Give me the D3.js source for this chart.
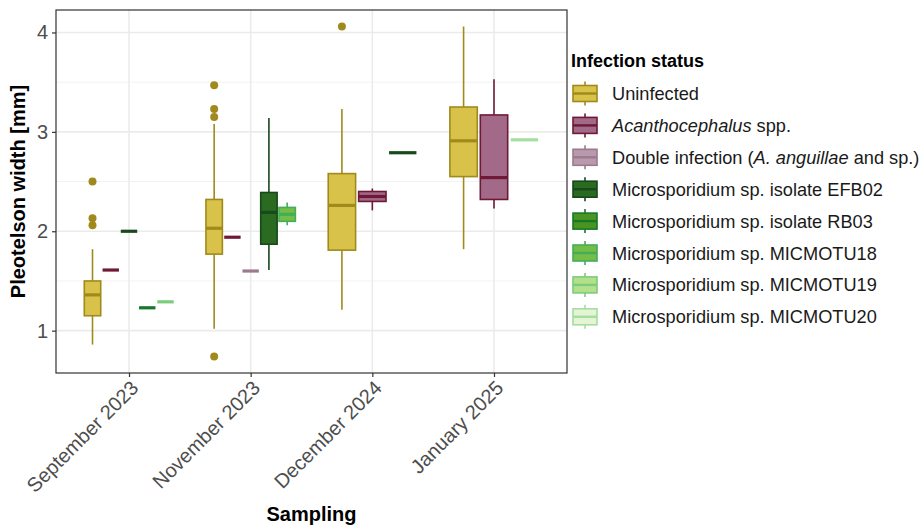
<!DOCTYPE html>
<html>
<head>
<meta charset="utf-8">
<script src="https://cdn.jsdelivr.net/npm/d3@7"></script>
<style>
  body { margin: 0; background: #fff; }
  svg { font-family: "Liberation Sans", Arial, sans-serif; }
</style>
</head>
<body>
<svg id="chart" width="923" height="528"></svg>
<script>
const samplings = ['September 2023', 'November 2023', 'December 2024', 'January 2025']

const statuses = [
  'Uninfected',
  'Acanthocephalus spp.',
  'Double infection (A. anguillae and sp.)',
  'Microsporidium sp. isolate EFB02',
  'Microsporidium sp. isolate RB03',
  'Microsporidium sp. MICMOTU18',
  'Microsporidium sp. MICMOTU19',
  'Microsporidium sp. MICMOTU20'
]

const fillColors = ['#d8c24a', '#a26a88', '#b89aac', '#2b6a21', '#4c9422', '#74bd46', '#b4e08c', '#e4f4d4']
const lineColors = ['#a08a1c', '#6e1a36', '#9c7a8e', '#17491a', '#16782b', '#44ad5a', '#7ccc7c', '#a4dea0']

// [sampling, status, lower whisker, q1, median, q3, upper whisker]
const boxStats = [
  ['September 2023', 'Uninfected', 0.86, 1.15, 1.36, 1.50, 1.82],
  ['September 2023', 'Acanthocephalus spp.', 1.61, 1.61, 1.61, 1.61, 1.61],
  ['September 2023', 'Microsporidium sp. isolate EFB02', 2.00, 2.00, 2.00, 2.00, 2.00],
  ['September 2023', 'Microsporidium sp. isolate RB03', 1.23, 1.23, 1.23, 1.23, 1.23],
  ['September 2023', 'Microsporidium sp. MICMOTU19', 1.29, 1.29, 1.29, 1.29, 1.29],
  ['November 2023', 'Uninfected', 1.02, 1.77, 2.03, 2.32, 3.08],
  ['November 2023', 'Acanthocephalus spp.', 1.94, 1.94, 1.94, 1.94, 1.94],
  ['November 2023', 'Double infection (A. anguillae and sp.)', 1.60, 1.60, 1.60, 1.60, 1.60],
  ['November 2023', 'Microsporidium sp. isolate EFB02', 1.61, 1.87, 2.19, 2.39, 3.14],
  ['November 2023', 'Microsporidium sp. MICMOTU18', 2.06, 2.10, 2.17, 2.24, 2.29],
  ['December 2024', 'Uninfected', 1.21, 1.81, 2.26, 2.58, 3.23],
  ['December 2024', 'Acanthocephalus spp.', 2.21, 2.30, 2.35, 2.40, 2.43],
  ['December 2024', 'Microsporidium sp. isolate EFB02', 2.79, 2.79, 2.79, 2.79, 2.79],
  ['January 2025', 'Uninfected', 1.82, 2.55, 2.91, 3.25, 4.06],
  ['January 2025', 'Acanthocephalus spp.', 2.23, 2.32, 2.54, 3.17, 3.53],
  ['January 2025', 'Microsporidium sp. MICMOTU20', 2.92, 2.92, 2.92, 2.92, 2.92]
]

// [sampling, status, value]
const outliers = [
  ['September 2023', 'Uninfected', 2.50],
  ['September 2023', 'Uninfected', 2.13],
  ['September 2023', 'Uninfected', 2.06],
  ['November 2023', 'Uninfected', 3.47],
  ['November 2023', 'Uninfected', 3.23],
  ['November 2023', 'Uninfected', 3.15],
  ['November 2023', 'Uninfected', 0.74],
  ['December 2024', 'Uninfected', 4.06]
]

const yTicks = [1, 2, 3, 4]
const yMinorTicks = [1.5, 2.5, 3.5]

const svg = d3.select('#chart')
const panel = { left: 56, right: 567, top: 10, bottom: 373 }

const fill = d3.scaleOrdinal(statuses, fillColors)
const stroke = d3.scaleOrdinal(statuses, lineColors)

const allValues = boxStats.flatMap((b) => b.slice(2)).concat(outliers.map((o) => o[2]))
const [vMin, vMax] = d3.extent(allValues)
const pad = (vMax - vMin) * 0.05

const x = d3.scalePoint()
  .domain(samplings)
  .range([panel.left, panel.right])
  .padding(0.6)

const y = d3.scaleLinear()
  .domain([vMin - pad, vMax + pad])
  .range([panel.bottom, panel.top])

// one band scale per sampling, so boxes dodge within their group
const dodge = {}
samplings.forEach((s) => {
  const present = statuses.filter((st) => boxStats.some((b) => b[0] === s && b[1] === st))
  const half = x.step() * 0.375
  dodge[s] = d3.scaleBand()
    .domain(present)
    .range([x(s) - half, x(s) + half])
    .paddingInner(0.1)
    .paddingOuter(0.05)
})

// grid
const grid = svg.append('g')
grid.selectAll('line.minor')
  .data(yMinorTicks)
  .join('line')
  .attr('x1', panel.left).attr('x2', panel.right)
  .attr('y1', (d) => y(d)).attr('y2', (d) => y(d))
  .attr('stroke', '#f2f2f2').attr('stroke-width', 1)
grid.selectAll('line.majorY')
  .data(yTicks)
  .join('line')
  .attr('x1', panel.left).attr('x2', panel.right)
  .attr('y1', (d) => y(d)).attr('y2', (d) => y(d))
  .attr('stroke', '#ebebeb').attr('stroke-width', 1.6)
grid.selectAll('line.majorX')
  .data(samplings)
  .join('line')
  .attr('y1', panel.top).attr('y2', panel.bottom)
  .attr('x1', (d) => x(d)).attr('x2', (d) => x(d))
  .attr('stroke', '#ebebeb').attr('stroke-width', 1.6)

// boxes
const boxes = svg.append('g')
  .selectAll('g')
  .data(boxStats)
  .join('g')

const bx = (d) => dodge[d[0]](d[1])
const bw = (d) => dodge[d[0]].bandwidth()
const bc = (d) => bx(d) + bw(d) / 2

boxes.append('line')
  .attr('x1', bc).attr('x2', bc)
  .attr('y1', (d) => y(d[2])).attr('y2', (d) => y(d[3]))
  .attr('stroke', (d) => stroke(d[1])).attr('stroke-width', 1.6)
boxes.append('line')
  .attr('x1', bc).attr('x2', bc)
  .attr('y1', (d) => y(d[5])).attr('y2', (d) => y(d[6]))
  .attr('stroke', (d) => stroke(d[1])).attr('stroke-width', 1.6)
boxes.append('rect')
  .attr('x', bx)
  .attr('width', bw)
  .attr('y', (d) => y(d[5]))
  .attr('height', (d) => y(d[3]) - y(d[5]))
  .attr('fill', (d) => fill(d[1]))
  .attr('stroke', (d) => stroke(d[1]))
  .attr('stroke-width', 1.6)
boxes.append('line')
  .attr('x1', bx).attr('x2', (d) => bx(d) + bw(d))
  .attr('y1', (d) => y(d[4])).attr('y2', (d) => y(d[4]))
  .attr('stroke', (d) => stroke(d[1])).attr('stroke-width', 3.2)

svg.append('g')
  .selectAll('circle')
  .data(outliers)
  .join('circle')
  .attr('cx', (d) => dodge[d[0]](d[1]) + dodge[d[0]].bandwidth() / 2)
  .attr('cy', (d) => y(d[2]))
  .attr('r', 4)
  .attr('fill', (d) => stroke(d[1]))

// panel border
svg.append('rect')
  .attr('x', panel.left).attr('y', panel.top)
  .attr('width', panel.right - panel.left)
  .attr('height', panel.bottom - panel.top)
  .attr('fill', 'none').attr('stroke', '#333').attr('stroke-width', 1.2)

// axes
const yAxis = svg.append('g')
  .attr('transform', `translate(${panel.left},0)`)
  .call(d3.axisLeft(y).tickValues(yTicks).tickSize(4).tickPadding(4).tickFormat(d3.format('d')))
yAxis.select('.domain').remove()
yAxis.selectAll('line').attr('stroke', '#333').attr('stroke-width', 1.2)
yAxis.selectAll('text')
  .attr('fill', '#4d4d4d')
  .style('font-size', '20px')
  .style('font-family', '"Liberation Sans", Arial, sans-serif')

const xAxis = svg.append('g')
  .attr('transform', `translate(0,${panel.bottom})`)
  .call(d3.axisBottom(x).tickSize(4).tickSizeOuter(0))
xAxis.select('.domain').remove()
xAxis.selectAll('line').attr('stroke', '#333').attr('stroke-width', 1.2)
xAxis.selectAll('text')
  .attr('fill', '#4d4d4d')
  .attr('text-anchor', 'end')
  .attr('y', 0)
  .attr('dy', '0.72em')
  .attr('transform', 'translate(0,6) rotate(-45)')
  .style('font-size', '20px')
  .style('font-family', '"Liberation Sans", Arial, sans-serif')

svg.append('text')
  .attr('x', (panel.left + panel.right) / 2)
  .attr('y', 521)
  .attr('text-anchor', 'middle')
  .attr('font-weight', 'bold')
  .attr('font-size', 20)
  .text('Sampling')

svg.append('text')
  .attr('transform', `translate(25,${(panel.top + panel.bottom) / 2}) rotate(-90)`)
  .attr('text-anchor', 'middle')
  .attr('font-weight', 'bold')
  .attr('font-size', 20)
  .text('Pleotelson width [mm]')

// legend
const legend = svg.append('g').attr('transform', 'translate(571,0)')
legend.append('text')
  .attr('x', 0).attr('y', 67)
  .attr('font-weight', 'bold')
  .attr('font-size', 18)
  .text('Infection status')

const rowY = (i) => 93.5 + i * 31.9
const items = legend.selectAll('g.item')
  .data(statuses)
  .join('g')
  .attr('class', 'item')
  .attr('transform', (d, i) => `translate(0,${rowY(i)})`)

items.append('line')
  .attr('x1', 14).attr('x2', 14).attr('y1', -12).attr('y2', 12)
  .attr('stroke', (d) => stroke(d)).attr('stroke-width', 1.6)
items.append('rect')
  .attr('x', 2).attr('y', -8).attr('width', 24).attr('height', 16)
  .attr('fill', (d) => fill(d))
  .attr('stroke', (d) => stroke(d)).attr('stroke-width', 1.6)
items.append('line')
  .attr('x1', 2).attr('x2', 26).attr('y1', 0).attr('y2', 0)
  .attr('stroke', (d) => stroke(d)).attr('stroke-width', 2.4)

const labels = items.append('text')
  .attr('x', 41).attr('y', 0)
  .attr('dy', '0.36em')
  .attr('font-size', 18.2)
  .attr('fill', '#1a1a1a')

labels.each(function (d) {
  const t = d3.select(this)
  if (d === 'Acanthocephalus spp.') {
    t.append('tspan').attr('font-style', 'italic').text('Acanthocephalus')
    t.append('tspan').text(' spp.')
  } else if (d.startsWith('Double')) {
    t.append('tspan').text('Double infection (')
    t.append('tspan').attr('font-style', 'italic').text('A. anguillae')
    t.append('tspan').text(' and sp.)')
  } else {
    t.text(d)
  }
})
</script>
</body>
</html>
